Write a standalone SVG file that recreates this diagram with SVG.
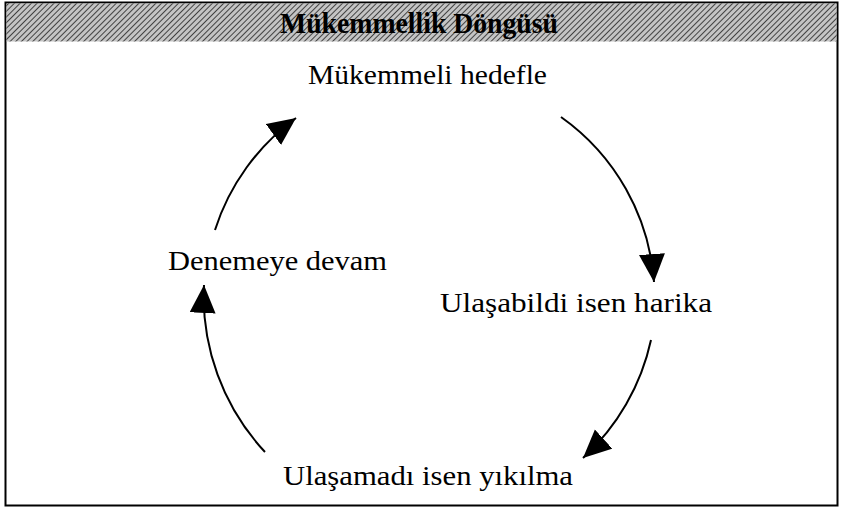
<svg xmlns="http://www.w3.org/2000/svg" width="841" height="514" viewBox="0 0 841 514">
  <style>
    .lbl { font-family: "Liberation Serif", "Times New Roman", serif; font-size: 28px; fill: #000; }
    .title { font-family: "Liberation Serif", "Times New Roman", serif; font-size: 29px; font-weight: bold; fill: #000; }
    .conn { fill: none; stroke: #000; stroke-width: 2; }
  </style>
  <defs>
    <pattern id="hatch" width="4" height="4" patternUnits="userSpaceOnUse" patternTransform="rotate(45)">
      <rect width="4" height="4" fill="#c4c4c4"/>
      <line x1="0" y1="0" x2="0" y2="4" stroke="#333" stroke-width="1.8"/>
    </pattern>
    <marker id="arrow" markerUnits="userSpaceOnUse" markerWidth="30" markerHeight="30" refX="28" refY="13" orient="auto">
      <polygon points="0,0 28,13 0,26" fill="#000"/>
    </marker>
  </defs>

  <rect x="5.5" y="2.5" width="832" height="503" fill="#fff" stroke="#000" stroke-width="2"/>
  <g id="header">
    <rect x="6.5" y="3.5" width="830" height="38" fill="url(#hatch)"/>
    <text class="title" x="280" y="33" textLength="278" lengthAdjust="spacingAndGlyphs">Mükemmellik Döngüsü</text>
  </g>

  <g id="n1"><text class="lbl" x="308" y="84" textLength="239" lengthAdjust="spacingAndGlyphs">Mükemmeli hedefle</text></g>
  <g id="n2"><text class="lbl" x="440" y="312" textLength="272" lengthAdjust="spacingAndGlyphs">Ulaşabildi isen harika</text></g>
  <g id="n3"><text class="lbl" x="283" y="485" textLength="290" lengthAdjust="spacingAndGlyphs">Ulaşamadı isen yıkılma</text></g>
  <g id="n4"><text class="lbl" x="168" y="270" textLength="219" lengthAdjust="spacingAndGlyphs">Denemeye devam</text></g>

  <g id="connectors">
    <path class="conn" d="M561,117 A222,222 0 0 1 654,282" marker-end="url(#arrow)"/>
    <path class="conn" d="M651,340 A225,225 0 0 1 583,458" marker-end="url(#arrow)"/>
    <path class="conn" d="M265,452 A228,228 0 0 1 204,285" marker-end="url(#arrow)"/>
    <path class="conn" d="M215,230 A222,222 0 0 1 296,118" marker-end="url(#arrow)"/>
  </g>
</svg>
